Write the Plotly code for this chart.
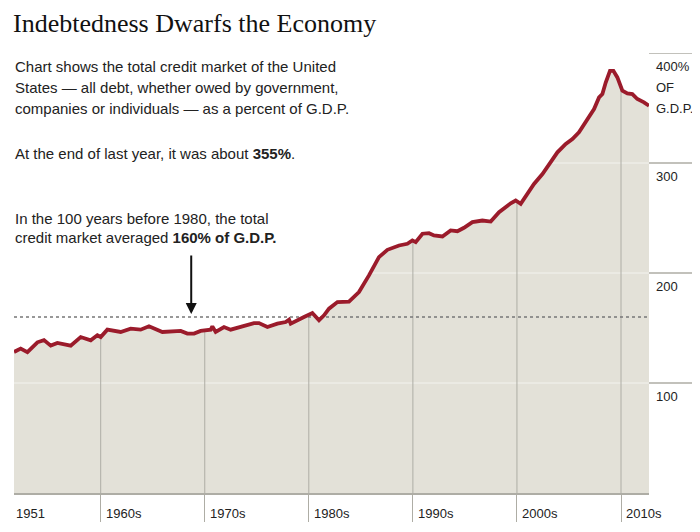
import numpy as np
import plotly.graph_objects as go

# Total U.S. credit market debt as percent of G.D.P.
years = [
    1951.67, 1952.31, 1952.96, 1953.59, 1953.92, 1954.55, 1955.20, 1955.84,
    1957.12, 1958.08, 1959.04, 1959.68, 1960.00, 1960.64, 1961.92, 1962.88,
    1963.84, 1964.64, 1965.93, 1967.69, 1968.33, 1968.97, 1969.61, 1970.57,
    1970.73, 1971.05, 1971.85, 1972.49, 1973.45, 1974.73, 1975.21, 1976.02,
    1976.98, 1977.78, 1978.10, 1978.26, 1979.54, 1980.34, 1980.98, 1981.46,
    1981.94, 1982.75, 1983.86, 1984.82, 1985.78, 1986.74, 1987.55, 1988.67,
    1989.47, 1989.95, 1990.27, 1990.92, 1991.55, 1992.03, 1992.84, 1993.63,
    1994.28, 1994.91, 1995.72, 1996.68, 1997.48, 1998.28, 1999.40, 1999.88,
    2000.36, 2001.00, 2001.64, 2002.45, 2003.08, 2003.89, 2004.69, 2005.33,
    2005.96, 2006.77, 2007.41, 2007.89, 2008.21, 2008.53, 2008.94, 2009.27,
    2009.65, 2010.13, 2010.61, 2011.09, 2011.57, 2012.21, 2012.69,
]
debt_pct = [
    128.2, 131.3, 128.0, 134.0, 137.0, 139.0, 134.0, 136.4,
    134.0, 141.8, 138.8, 143.4, 141.8, 148.5, 146.4, 149.4,
    148.5, 151.5, 146.4, 147.3, 144.9, 144.9, 147.3, 148.5,
    151.5, 146.4, 150.9, 148.5, 150.9, 154.5, 154.5, 150.9,
    154.0, 155.4, 157.6, 154.0, 160.0, 163.6, 157.0, 161.5,
    167.6, 173.6, 174.0, 182.7, 197.8, 214.4, 221.1, 225.0,
    226.6, 229.6, 228.0, 235.7, 236.2, 234.1, 233.2, 238.7,
    238.0, 241.1, 246.2, 247.7, 246.8, 255.3, 263.4, 265.9,
    262.9, 272.0, 281.0, 290.0, 299.0, 309.7, 317.3, 321.8,
    327.9, 340.0, 349.0, 359.6, 362.7, 373.2, 383.8, 383.8,
    377.8, 365.7, 363.2, 362.7, 358.2, 355.1, 352.0,
]

decades = [1960, 1970, 1980, 1990, 2000, 2010]
decade_labels = ["1960s", "1970s", "1980s", "1990s", "2000s", "2010s"]
first_label = "1951"
y_ticks = [100, 200, 300, 400]
y_tick_labels = [["100"], ["200"], ["300"], ["400%", "OF", "G.D.P."]]
long_run_avg = 160

FILL = "#e3e1d8"
RED = "#9b1b2b"
GRID_GRAY = "#aeada5"
TEXT = "#222222"
SANS = "Arial, Liberation Sans, sans-serif"

# page geometry in pixels (the page body adds an 8px offset)
OFF = 8
W, H = 700 - OFF, 532 - OFF
L, R, T, B = 14 - OFF, 51, 53 - OFF, 39
PW, PH = W - L - R, H - T - B


def px(x):
    return (x - OFF - L) / PW


def py(y):
    return (H - B - (y - OFF)) / PH


x_min, x_max = min(years), max(years)

fig = go.Figure()

# shaded area under the curve
fig.add_trace(go.Scatter(
    x=years, y=debt_pct, mode="lines", line=dict(width=0),
    fill="tozeroy", fillcolor=FILL, hoverinfo="skip", showlegend=False,
))

# faint light gridlines over the fill
gx, gy = [], []
for v in y_ticks[:-1]:
    gx += [x_min, x_max, None]
    gy += [v, v, None]
fig.add_trace(go.Scatter(
    x=gx, y=gy, mode="lines", line=dict(color="rgba(255,255,255,0.6)", width=1),
    hoverinfo="skip", showlegend=False,
))

# decade lines up to the curve
dx, dy = [], []
for d in decades:
    dx += [d, d, None]
    dy += [0, float(np.interp(d, years, debt_pct)), None]
fig.add_trace(go.Scatter(
    x=dx, y=dy, mode="lines", line=dict(color=GRID_GRAY, width=1),
    hoverinfo="skip", showlegend=False,
))

# 160% long-run average
fig.add_trace(go.Scatter(
    x=[x_min, x_max], y=[long_run_avg, long_run_avg], mode="lines",
    line=dict(color="#777777", width=1.6, dash="dot"),
    hoverinfo="skip", showlegend=False,
))

# main series
fig.add_trace(go.Scatter(
    x=years, y=debt_pct, mode="lines",
    line=dict(color=RED, width=3.8, shape="linear"),
    showlegend=False,
))

# right side tick lines and labels
for v, lines in zip(y_ticks, y_tick_labels):
    fig.add_shape(
        type="line", xref="paper", yref="y", x0=1, x1=1 + 44 / PW, y0=v, y1=v,
        line=dict(color=GRID_GRAY, width=1.5),
    )
    for i, lab in enumerate(lines):
        fig.add_annotation(
            x=1 + 5 / PW, xref="paper", y=v, yref="y", text=lab, showarrow=False,
            xanchor="left", yanchor="middle", yshift=-13 - 21 * i, align="left",
            font=dict(family=SANS, size=13, color=TEXT),
        )

# bottom labels
fig.add_annotation(
    x=x_min, y=0, yref="paper", text=first_label, showarrow=False,
    xanchor="left", yanchor="top", yshift=-11, xshift=0,
    font=dict(family=SANS, size=13, color=TEXT),
)
for d, lab in zip(decades, decade_labels):
    fig.add_annotation(
        x=d, y=0, yref="paper", text=lab, showarrow=False,
        xanchor="left", yanchor="top", yshift=-11, xshift=3,
        font=dict(family=SANS, size=13, color=TEXT),
    )

# title
fig.add_annotation(
    x=px(12), y=py(OFF), xref="paper", yref="paper",
    text="Indebtedness Dwarfs the Economy", showarrow=False,
    xanchor="left", yanchor="top", borderpad=0,
    font=dict(family="Georgia, Liberation Serif, serif", size=26, color="#111111"),
)

# explanatory text
notes = [
    (66.7, "Chart shows the total credit market of the United"),
    (87.7, "States \u2014 all debt, whether owed by government,"),
    (108.3, "companies or individuals \u2014 as a percent of G.D.P."),
    (153.3, "At the end of last year, it was about <b>355%</b>."),
    (218.3, "In the 100 years before 1980, the total"),
    (238.0, "credit market averaged <b>160% of G.D.P.</b>"),
]
for yy, txt in notes:
    fig.add_annotation(
        x=px(13), y=py(yy), xref="paper", yref="paper", text=txt,
        showarrow=False, xanchor="left", yanchor="middle",
        font=dict(family=SANS, size=15, color=TEXT),
    )

# arrow pointing at the average line
fig.add_annotation(
    x=1968.7, y=long_run_avg, text="", showarrow=True,
    ax=0, ay=-60, yshift=3, arrowhead=2, arrowsize=1.1, arrowwidth=2,
    arrowcolor="#111111",
)

fig.update_layout(
    width=W, height=H,
    margin=dict(l=L, r=R, t=T, b=B),
    paper_bgcolor="white", plot_bgcolor="white",
    xaxis=dict(
        range=[x_min, x_max], showgrid=False, zeroline=False,
        showticklabels=False, ticks="outside", ticklen=27, tickwidth=1,
        tickcolor=GRID_GRAY, tickvals=decades,
        showline=True, linecolor=GRID_GRAY, linewidth=1.5,
    ),
    yaxis=dict(
        range=[0, 400], showgrid=False, zeroline=False, showticklabels=False,
    ),
    showlegend=False,
)

fig.write_html("out.html")
